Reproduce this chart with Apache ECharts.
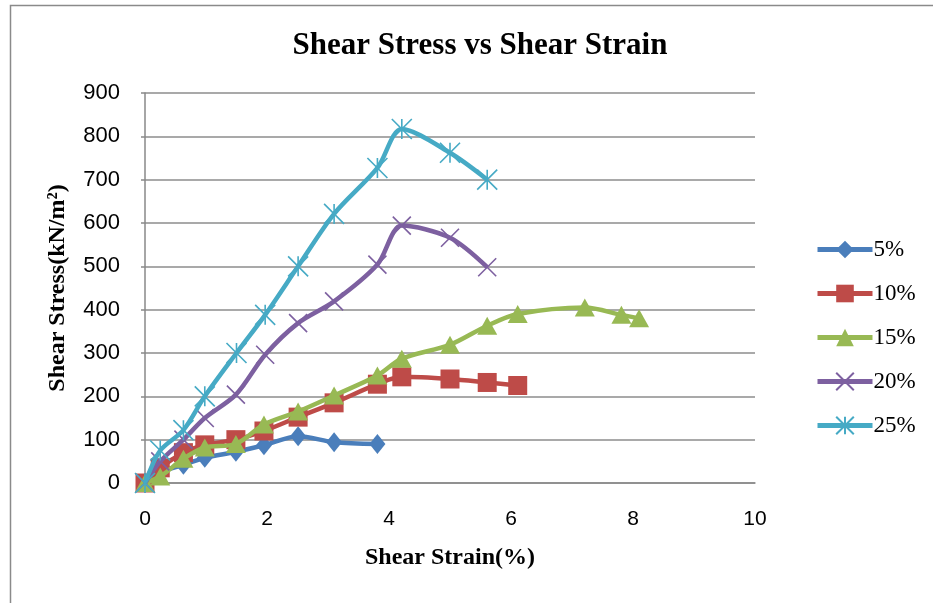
<!DOCTYPE html>
<html>
<head>
<meta charset="utf-8">
<script src="https://cdn.jsdelivr.net/npm/echarts@6/dist/echarts.min.js"></script>
<style>html,body{margin:0;padding:0;background:#fff;}#c{width:933px;height:603px;}</style>
</head>
<body>
<div id="c"></div>
<script>
var seriesNames = ['5%', '10%', '15%', '20%', '25%'];
var strain5 = [0, 0.25, 0.63, 0.98, 1.49, 1.95, 2.51, 3.1, 3.81];
var stress5 = [0, 25, 42, 58, 72, 87, 108, 94, 90];
var strain10 = [0, 0.25, 0.63, 0.98, 1.49, 1.95, 2.51, 3.1, 3.81, 4.21, 5.0, 5.61, 6.11];
var stress10 = [0, 35, 70, 88, 100, 120, 152, 185, 228, 245, 240, 232, 225];
var strain15 = [0, 0.25, 0.63, 0.98, 1.49, 1.95, 2.51, 3.1, 3.81, 4.21, 5.0, 5.61, 6.11, 7.21, 7.81, 8.1];
var stress15 = [0, 15, 56, 82, 90, 135, 165, 202, 248, 287, 319, 363, 390, 405, 388, 380];
var strain20 = [0, 0.25, 0.63, 0.98, 1.49, 1.97, 2.51, 3.1, 3.81, 4.21, 5.0, 5.61];
var stress20 = [0, 50, 100, 150, 204, 296, 369, 419, 504, 594, 566, 498];
var strain25 = [0, 0.25, 0.63, 0.98, 1.5, 1.97, 2.51, 3.1, 3.81, 4.21, 5.0, 5.61];
var stress25 = [0, 75, 122, 200, 300, 388, 500, 621, 727, 817, 762, 700];
var xTicks = [0, 2, 4, 6, 8, 10];
var yTicks = [0, 100, 200, 300, 400, 500, 600, 700, 800, 900];

function pairs(xs, ys) { return xs.map(function (x, i) { return [x, ys[i]]; }); }

var colors = ['#4A7EBB', '#BE4B48', '#98B954', '#7D60A0', '#46AAC5'];
var symbols = [
  'diamond',
  'rect',
  'triangle',
  'path://M0,0L10,10M10,0L0,10',
  'path://M5,0L5,10M0,0L10,10M10,0L0,10'
];
var sizes = [[16, 20], 19, [20, 18], 18, 20];
var dataSets = [
  pairs(strain5, stress5), pairs(strain10, stress10), pairs(strain15, stress15),
  pairs(strain20, stress20), pairs(strain25, stress25)
];

var series = seriesNames.map(function (n, i) {
  var open = i >= 3;
  return {
    name: n, type: 'line', data: dataSets[i], smooth: 0.3,
    symbol: symbols[i], symbolSize: sizes[i], showAllSymbol: true,
    lineStyle: { color: colors[i], width: 4.5 },
    itemStyle: { color: open ? 'rgba(0,0,0,0)' : colors[i], borderColor: colors[i], borderWidth: open ? 1.6 : 0 },
    emphasis: { disabled: true },
    z: 2 + i
  };
});

var chart = echarts.init(document.getElementById('c'));
chart.setOption({
  animation: false,
  backgroundColor: '#fff',
  title: {
    text: 'Shear Stress vs Shear Strain', left: 475, top: 25, textAlign: 'center',
    textStyle: { fontFamily: 'Liberation Serif', fontWeight: 'bold', fontSize: 31, color: '#000' }
  },
  legend: {
    orient: 'vertical', left: 810, top: 233, itemWidth: 55, itemHeight: 22, itemGap: 21,
    data: seriesNames,
    lineStyle: { width: 5 },
    textStyle: { fontFamily: 'Liberation Serif', fontSize: 23, color: '#000', lineHeight: 23, padding: [0, 0, 0, -4] }
  },
  grid: { left: 145, right: 178, top: 93, bottom: 120 },
  xAxis: {
    type: 'value', min: 0, max: 10, interval: 2,
    name: 'Shear Strain(%)', nameLocation: 'middle', nameGap: 63,
    nameTextStyle: { fontFamily: 'Liberation Serif', fontWeight: 'bold', fontSize: 24, color: '#000' },
    axisLine: { show: true, lineStyle: { color: '#898989', width: 1.5 } },
    axisTick: { show: false },
    splitLine: { show: false },
    axisLabel: { margin: 26, fontFamily: 'Liberation Sans', fontSize: 21, color: '#000' }
  },
  yAxis: {
    type: 'value', min: 0, max: 900, interval: 100,
    name: 'Shear Stress(kN/m²)', nameLocation: 'middle', nameGap: 75,
    nameTextStyle: { fontFamily: 'Liberation Serif', fontWeight: 'bold', fontSize: 24, color: '#000' },
    axisLine: { show: true, lineStyle: { color: '#898989', width: 1.5 } },
    axisTick: { show: true, inside: false, length: 4, lineStyle: { color: '#898989', width: 1.5 } },
    splitLine: { show: true, lineStyle: { color: '#8c8c8c', width: 1.5 } },
    axisLabel: { margin: 25, fontFamily: 'Liberation Sans', fontSize: 22, color: '#000' }
  },
  graphic: [{
    type: 'rect', left: 8, top: 3, silent: true,
    shape: { width: 1000, height: 700 },
    style: { fill: 'none', stroke: '#8a8a8a', lineWidth: 1.5 }
  }],
  series: series
});
</script>
</body>
</html>
